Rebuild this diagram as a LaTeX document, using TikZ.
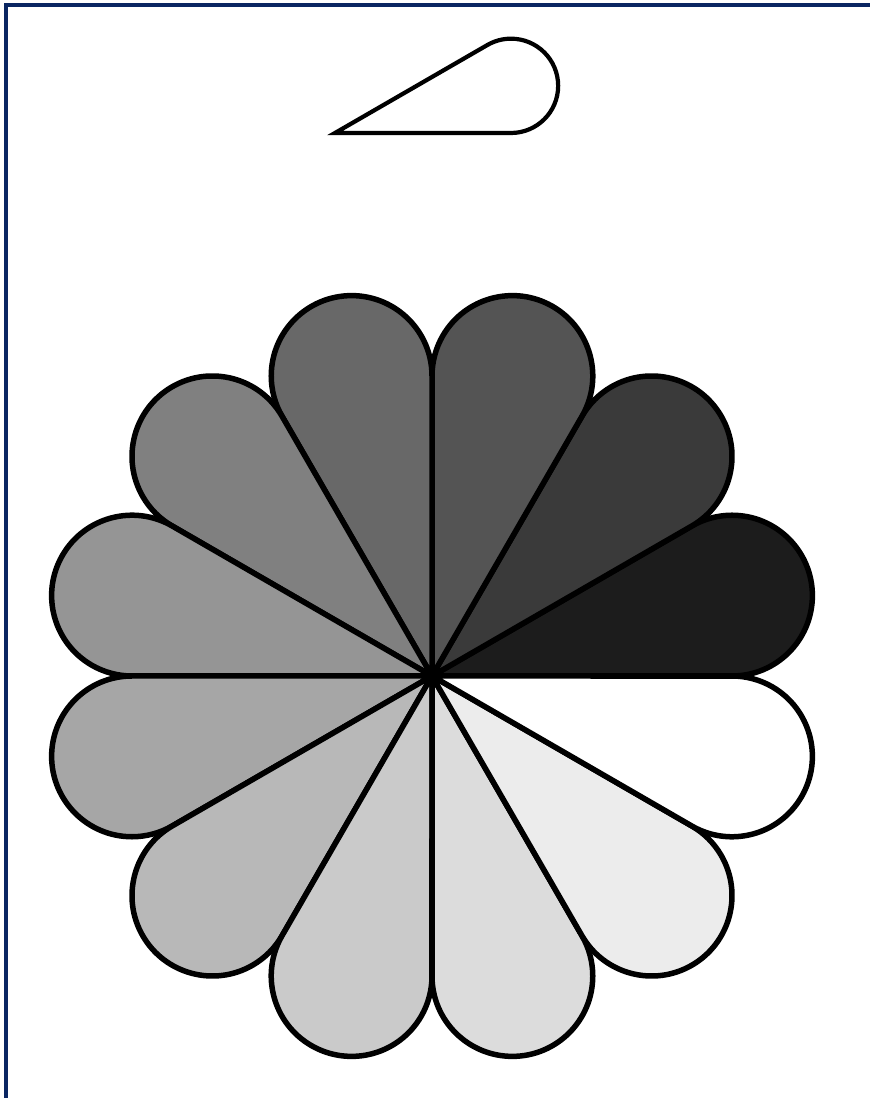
\documentclass[tikz,border=0pt]{standalone}
\begin{document}
\begin{tikzpicture}[x=1pt,y=1pt,
  petal/.style={draw=black,line width=5.5pt,line join=miter},
  drop/.style={draw=black,line width=4.2pt,fill=white},
  frame/.style={draw={rgb,255:red,10;green,38;blue,98},line width=4.5pt}]
\useasboundingbox (0,0) rectangle (870,1098);
\fill[white] (0,0) rectangle (870,1098);
% frame (clipped by page at right and bottom)
\draw[frame] (6,-20) -- (6,1093) -- (890,1093);
% small teardrop at the top
\coordinate (T) at (335,965);
\draw[drop] (T) -- ++(0:176) arc[start angle=-90,end angle=120,radius=47.16] -- cycle;
% flower of twelve teardrops
\coordinate (C) at (432,422);
\foreach \i/\g in {0/28,1/58,2/84,3/104,4/128,5/149,6/166,7/184,8/202,9/220,10/236,11/255}{
  \pgfmathsetmacro{\a}{30*\i}
  \definecolor{pc}{RGB}{\g,\g,\g}
  \draw[petal,fill=pc] (C) -- ++(\a:300) arc[start angle=\a-90,end angle=\a+120,radius=80.38] -- cycle;
}
\end{tikzpicture}
\end{document}
